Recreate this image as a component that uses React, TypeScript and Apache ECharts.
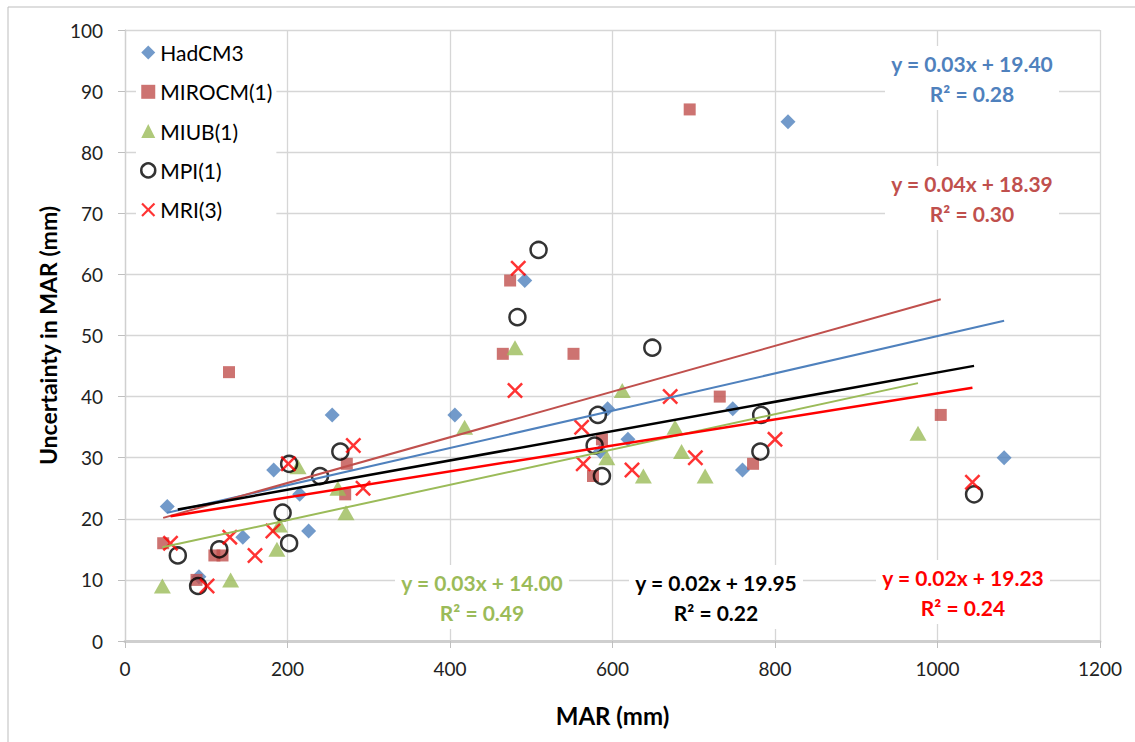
import React, { useEffect, useRef } from 'react';
import * as echarts from 'echarts';

// Model names (legend order)
const seriesNames = ['HadCM3', 'MIROCM(1)', 'MIUB(1)', 'MPI(1)', 'MRI(3)'];
const seriesColors = ['#4F81BD', '#C0504D', '#9BBB59', '#000000', '#FF0000'];

// MAR (mm) vs uncertainty in MAR (mm), per model
const hadcm3X = [52, 91, 145, 183, 215, 226, 255, 406, 492, 585, 594, 619, 748, 760, 816, 1082];
const hadcm3Y = [22, 10.5, 17, 28, 24, 18, 37, 37, 59, 31, 38, 33, 38, 28, 85, 30];

const mirocX = [47, 88, 110, 120, 128, 271, 273, 465, 474, 552, 576, 587, 695, 732, 773, 1004];
const mirocY = [16, 10, 14, 14, 44, 24, 29, 47, 59, 47, 27, 33, 87, 40, 29, 37];

const miubX = [46, 130, 187, 190, 213, 262, 272, 418, 480, 593, 612, 638, 677, 685, 714, 976];
const miubY = [9, 10, 15, 19, 28.5, 25, 21, 35, 48, 30, 41, 27, 35, 31, 27, 34];

const mpiX = [65, 90, 116, 194, 202, 202, 240, 265, 483, 509, 578, 582, 587, 649, 782, 783, 1045];
const mpiY = [14, 9, 15, 21, 16, 29, 27, 31, 53, 64, 32, 37, 27, 48, 31, 37, 24];

const mriX = [56, 101, 129, 160, 182, 201, 281, 293, 480, 484, 562, 564, 624, 671, 702, 800, 1043];
const mriY = [16, 9, 17, 14, 18, 29, 32, 25, 41, 61, 35, 29, 28, 40, 30, 33, 26];

// Linear trendlines: y = slope * x + intercept
const trendSlopes = [0.0305, 0.0374, 0.0289, 0.024, 0.0213];
const trendIntercepts = [19.4, 18.39, 14.0, 19.95, 19.23];
const trendR2 = [0.28, 0.3, 0.49, 0.22, 0.24];

// Axis ranges
const xMin = 0, xMax = 1200, xStep = 200;
const yMin = 0, yMax = 100, yStep = 10;

const seriesX = [hadcm3X, mirocX, miubX, mpiX, mriX];
const seriesY = [hadcm3Y, mirocY, miubY, mpiY, mriY];

// Where each equation box sits: centre x, first line centre y
const equationPos = [
  [972, 63],
  [972, 183],
  [482, 582],
  [716, 582],
  [963, 577],
];

const crossPath =
  'path://M0,1.1L1.1,0L5,3.9L8.9,0L10,1.1L6.1,5L10,8.9L8.9,10L5,6.1L1.1,10L0,8.9L3.9,5Z';

const symbols = ['diamond', 'rect', 'triangle', 'circle', crossPath];
const symbolSizes: any[] = [15, 12, [17, 15], 16, 16];

const FONT = 'Lato, "Open Sans", sans-serif';

export default function App() {
  const ref = useRef<HTMLDivElement>(null);

  useEffect(() => {
    document.body.style.margin = '0';
    if (!ref.current) return;
    const chart = echarts.init(ref.current, undefined, { renderer: 'svg' });

    const scatterSeries = seriesNames.map((name, i) => {
      const isRing = i === 3;
      return {
        name,
        type: 'scatter',
        symbol: symbols[i],
        symbolSize: symbolSizes[i],
        data: seriesX[i].map((x, k) => [x, seriesY[i][k]]),
        itemStyle: isRing
          ? { color: 'rgba(255,255,255,0)', borderColor: '#000', borderWidth: 2.5 }
          : { color: seriesColors[i], borderWidth: 0 },
        z: 3,
      };
    });

    const trendSeries = seriesNames.map((name, i) => {
      const xs = seriesX[i];
      const x0 = Math.min(...xs);
      const x1 = Math.max(...xs);
      const f = (x: number) => trendSlopes[i] * x + trendIntercepts[i];
      return {
        name: name + ' trend',
        type: 'line',
        data: [
          [x0, f(x0)],
          [x1, f(x1)],
        ],
        symbol: 'none',
        lineStyle: { color: seriesColors[i], width: i >= 3 ? 2.5 : 2 },
        z: 4,
        silent: true,
      };
    });

    const equationTexts = seriesNames.map((_, i) => ({
      type: 'text',
      x: equationPos[i][0],
      y: equationPos[i][1] - 17,
      z: 10,
      style: {
        text:
          'y = ' + trendSlopes[i].toFixed(2) + 'x + ' + trendIntercepts[i].toFixed(2) +
          '\nR² = ' + trendR2[i].toFixed(2),
        textAlign: 'center',
        textVerticalAlign: 'top',
        fontFamily: FONT,
        fontWeight: 'bold',
        fontSize: 21,
        lineHeight: 30,
        fill: seriesColors[i],
        backgroundColor: '#ffffff',
        padding: [2, 6],
      },
    }));

    const legendData = seriesNames.map((name, i) =>
      i === 3
        ? {
            name,
            itemStyle: { color: 'rgba(255,255,255,0)', borderColor: '#000', borderWidth: 2.5 },
          }
        : { name }
    );

    chart.setOption({
      animation: false,
      backgroundColor: '#ffffff',
      textStyle: { fontFamily: FONT },
      grid: { left: 125, right: 35, top: 30, bottom: 101, containLabel: false },
      legend: {
        orient: 'vertical',
        left: 136,
        top: 38,
        padding: [4, 4],
        backgroundColor: '#ffffff',
        itemWidth: 14,
        itemHeight: 14,
        itemGap: 18.3,
        data: legendData,
        textStyle: { fontSize: 21, lineHeight: 21, color: '#000', fontFamily: FONT },
        selectedMode: false,
        z: 8,
      },
      xAxis: {
        type: 'value',
        min: xMin,
        max: xMax,
        interval: xStep,
        name: 'MAR (mm)',
        nameLocation: 'middle',
        nameGap: 62,
        nameTextStyle: { fontSize: 24, fontWeight: 'bold', color: '#000', fontFamily: FONT },
        axisLine: { show: true, onZero: false, lineStyle: { color: '#CFCFCF', width: 3 } },
        axisTick: { show: true, length: 7, lineStyle: { color: '#BFBFBF', width: 1 } },
        axisLabel: {
          fontSize: 19,
          color: '#222',
          margin: 18,
          fontFamily: FONT,
          formatter: (v: number) => String(v),
        },
        splitLine: { show: true, lineStyle: { color: '#D6D6D6', width: 1.3 } },
      },
      yAxis: {
        type: 'value',
        min: yMin,
        max: yMax,
        interval: yStep,
        name: 'Uncertainty in MAR (mm)',
        nameLocation: 'middle',
        nameGap: 66,
        nameRotate: 90,
        nameTextStyle: { fontSize: 23, fontWeight: 'bold', color: '#000', fontFamily: FONT },
        axisLine: { show: true, lineStyle: { color: '#D0D0D0', width: 1.3 } },
        axisTick: { show: true, length: 7, lineStyle: { color: '#BFBFBF', width: 1 } },
        axisLabel: {
          fontSize: 19,
          color: '#222',
          margin: 22,
          fontFamily: FONT,
          formatter: (v: number) => String(v),
        },
        splitLine: { show: true, lineStyle: { color: '#D6D6D6', width: 1.3 } },
      },
      graphic: [
        {
          type: 'line',
          shape: { x1: 8, y1: 7, x2: 1135, y2: 7 },
          style: { stroke: '#BDBDBD', lineWidth: 1 },
          silent: true,
        },
        {
          type: 'line',
          shape: { x1: 8, y1: 7, x2: 8, y2: 742 },
          style: { stroke: '#BDBDBD', lineWidth: 1 },
          silent: true,
        },
        ...equationTexts,
      ],
      series: [...scatterSeries, ...trendSeries],
    });

    return () => chart.dispose();
  }, []);

  return <div ref={ref} style={{ width: 1135, height: 742 }} />;
}
